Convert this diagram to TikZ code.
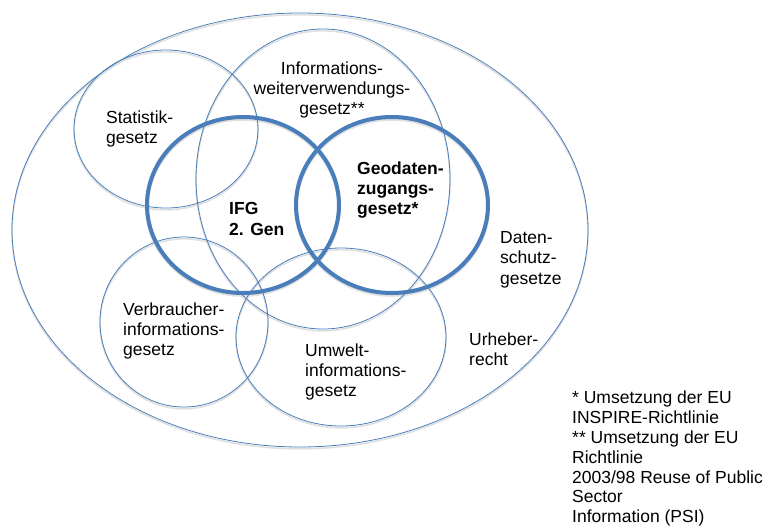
\documentclass[tikz,border=0pt]{standalone}
\usepackage{fontspec}
\setmainfont{Liberation Sans}
\definecolor{vblue}{HTML}{4A7EBB}
\begin{document}
\begin{tikzpicture}[x=1pt,y=-1pt,
  thin/.style={draw=vblue,line width=0.8pt},
  thick/.style={draw=vblue,line width=4pt},
  shad/.style={draw=black!12,line width=1.6pt},
  lbl/.style={inner sep=0pt,anchor=north west,align=left,font=\fontsize{17.5}{20.2}\selectfont},
  lblc/.style={inner sep=0pt,anchor=north,align=center,font=\fontsize{17.5}{20.2}\selectfont},
  blbl/.style={lbl,font=\fontsize{17.5}{20.2}\selectfont\bfseries}]
\useasboundingbox (0,0) rectangle (766,528);
% soft shadows
\begin{scope}[shift={(0,1.8)}]
\draw[shad] (300,230) ellipse [x radius=288pt, y radius=217pt];
\draw[shad] (166,129) ellipse [x radius=92pt, y radius=79pt];
\draw[shad] (323,179) ellipse [x radius=127pt, y radius=150pt];
\draw[shad] (184,322) ellipse [x radius=84pt, y radius=85pt];
\draw[shad] (341,337) ellipse [x radius=105pt, y radius=89pt];
\draw[draw=black!12,line width=4pt] (243,205) ellipse [x radius=96pt, y radius=88pt];
\draw[draw=black!12,line width=4pt] (392,205) ellipse [x radius=96pt, y radius=88pt];
\end{scope}
% thin sets
\draw[thin] (300,230) ellipse [x radius=288pt, y radius=217pt];
\draw[thin] (166,129) ellipse [x radius=92pt, y radius=79pt];
\draw[thin] (323,179) ellipse [x radius=127pt, y radius=150pt];
\draw[thin] (184,322) ellipse [x radius=84pt, y radius=85pt];
\draw[thin] (341,337) ellipse [x radius=105pt, y radius=89pt];
% thick sets
\draw[thick] (243,205) ellipse [x radius=96pt, y radius=88pt];
\draw[thick] (392,205) ellipse [x radius=96pt, y radius=88pt];
% labels
\node[lbl] (stat) at (106,110.5) {Statistik-\\gesetz};
\node[lblc] (iwg) at (332,61.5) {Informations-\\weiterverwendungs-\\gesetz**};
\node[blbl] (ifg) at (229,202.5) {IFG\\2. Gen};
\node[blbl] (geo) at (357,161.5) {Geodaten-\\zugangs-\\gesetz*};
\node[lbl] (dat) at (500,231.5) {Daten-\\schutz-\\gesetze};
\node[lbl] (urh) at (469,332.5) {Urheber-\\recht};
\node[lbl] (vig) at (123,302.5) {Verbraucher-\\informations-\\gesetz};
\node[lbl] (uig) at (305,343.5) {Umwelt-\\informations-\\gesetz};
\node[lbl,font=\fontsize{17.5}{19.8}\selectfont] (note) at (572,391) {* Umsetzung der EU\\INSPIRE-Richtlinie\\** Umsetzung der EU\\Richtlinie\\2003/98 Reuse of Public\\Sector\\Information (PSI)};
\end{tikzpicture}
\end{document}
